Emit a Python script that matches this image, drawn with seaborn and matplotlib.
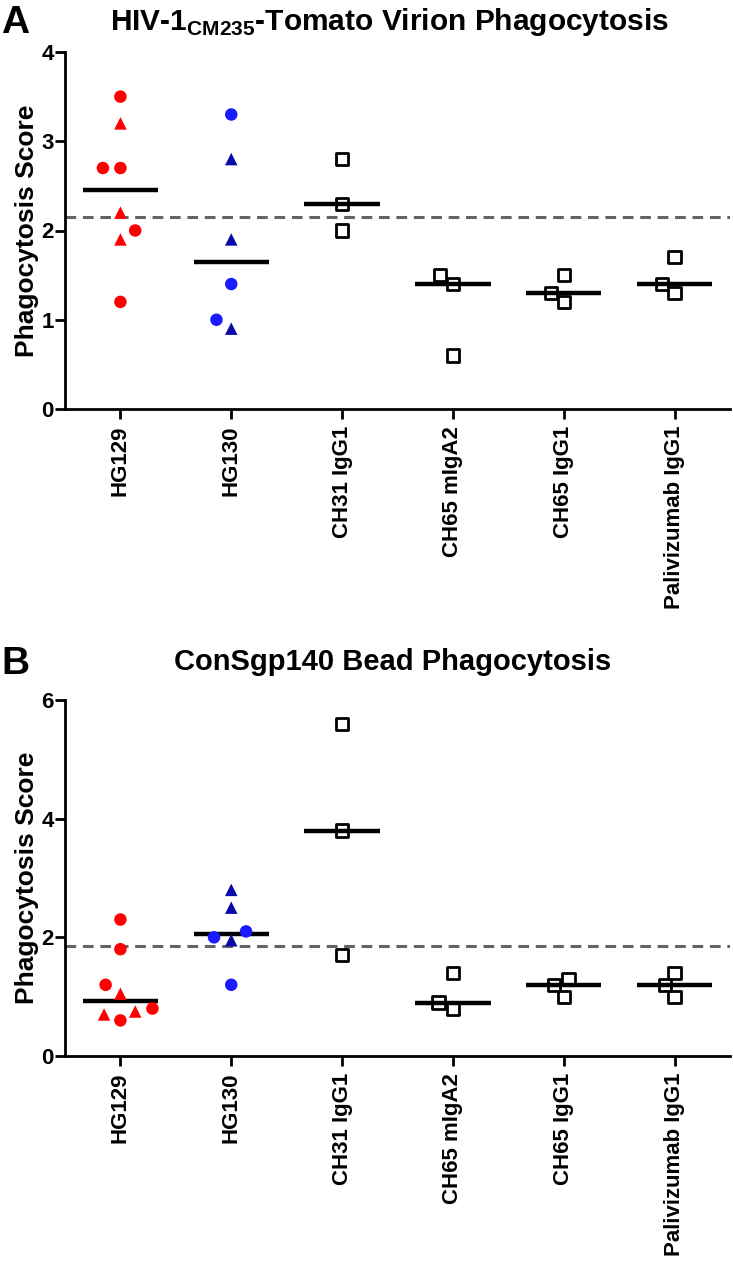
import numpy as np
import pandas as pd
import matplotlib
matplotlib.use("Agg")
import matplotlib.pyplot as plt
import seaborn as sns
from matplotlib.markers import MarkerStyle

# ---------------- data ----------------
categories = ["HG129", "HG130", "CH31 IgG1", "CH65 mIgA2", "CH65 IgG1", "Palivizumab IgG1"]

# Panel A: HIV-1 CM235-Tomato virion phagocytosis
a_hg129 = [3.5, 3.2, 2.7, 2.7, 2.2, 2.0, 1.9, 1.2]
a_hg129_shape = ["o", "^", "o", "o", "^", "o", "^", "o"]
a_hg130 = [3.3, 2.8, 1.9, 1.4, 1.0, 0.9]
a_hg130_shape = ["o", "^", "^", "o", "o", "^"]
a_ch31_igg1 = [2.8, 2.3, 2.0]
a_ch65_miga2 = [1.5, 1.4, 0.6]
a_ch65_igg1 = [1.5, 1.3, 1.2]
a_palivizumab = [1.7, 1.4, 1.3]
a_cutoff = 2.15

# Panel B: ConSgp140 bead phagocytosis
b_hg129 = [2.3, 1.8, 1.2, 1.05, 0.8, 0.75, 0.7, 0.6]
b_hg129_shape = ["o", "o", "o", "^", "o", "^", "^", "o"]
b_hg130 = [2.8, 2.5, 2.1, 2.0, 1.95, 1.2]
b_hg130_shape = ["^", "^", "o", "o", "^", "o"]
b_ch31_igg1 = [5.6, 3.8, 1.7]
b_ch65_miga2 = [1.4, 0.9, 0.8]
b_ch65_igg1 = [1.3, 1.2, 1.0]
b_palivizumab = [1.4, 1.2, 1.0]
b_cutoff = 1.85

# ---------------- style ----------------
sns.set_theme(style="ticks")
plt.rcParams["font.family"] = ["Liberation Sans", "DejaVu Sans"]
plt.rcParams["mathtext.fontset"] = "custom"
plt.rcParams["mathtext.rm"] = "Liberation Sans"
plt.rcParams["mathtext.bf"] = "Liberation Sans:bold"
for k in ("text.color", "axes.labelcolor", "xtick.color", "ytick.color", "axes.edgecolor"):
    plt.rcParams[k] = "black"

colors = {("HG129", "o"): "#ff0000", ("HG129", "^"): "#ff0000",
          ("HG130", "o"): "#1a1aff", ("HG130", "^"): "#0a0aa8"}


def make_df(hg129, s129, hg130, s130, ch31, ch65a, ch65g, pali):
    rows = []
    for v, s in zip(hg129, s129):
        rows.append((categories[0], v, s))
    for v, s in zip(hg130, s130):
        rows.append((categories[1], v, s))
    for cat, vals in zip(categories[2:], [ch31, ch65a, ch65g, pali]):
        for v in vals:
            rows.append((cat, v, "s"))
    return pd.DataFrame(rows, columns=["cat", "score", "shape"])


df_a = make_df(a_hg129, a_hg129_shape, a_hg130, a_hg130_shape,
               a_ch31_igg1, a_ch65_miga2, a_ch65_igg1, a_palivizumab)
df_b = make_df(b_hg129, b_hg129_shape, b_hg130, b_hg130_shape,
               b_ch31_igg1, b_ch65_miga2, b_ch65_igg1, b_palivizumab)

W, H = 733, 1265
fig = plt.figure(figsize=(W / 100, H / 100), dpi=100)

def px_axes(left, top, right, bottom):
    return fig.add_axes([left / W, 1 - bottom / H, (right - left) / W, (bottom - top) / H])

ax_a = px_axes(65, 52, 730, 409)
ax_b = px_axes(65, 700, 730, 1056)


def marker_path(m):
    ms = MarkerStyle(m)
    return ms.get_path().transformed(ms.get_transform())


def draw_panel(ax, df, cutoff, ymax, yticks):
    ax.axhline(cutoff, color="#646464", lw=2.2, ls=(0, (3.5, 2.2)), zorder=1)
    sns.boxplot(data=df, x="cat", y="score", order=categories, ax=ax,
                showbox=False, showcaps=False, showfliers=False, whis=0,
                width=0.68,
                medianprops=dict(color="black", lw=3.2, solid_capstyle="butt"),
                whiskerprops=dict(visible=False), zorder=3)
    sns.swarmplot(data=df, x="cat", y="score", order=categories, ax=ax,
                  size=9, color="black", linewidth=0, zorder=4)
    for coll in ax.collections:
        offs = coll.get_offsets()
        if len(offs) == 0:
            continue
        idx = int(round(offs[0, 0]))
        cat = categories[idx]
        sub = df[df["cat"] == cat]
        shapes = list(sub["shape"])
        coll.set_paths([marker_path(s) for s in shapes])
        if cat in ("HG129", "HG130"):
            coll.set_facecolors([colors[(cat, s)] for s in shapes])
            coll.set_edgecolor("none")
            coll.set_linewidth(3)
        else:
            coll.set_sizes([78])
            coll.set_facecolor("none")
            coll.set_edgecolor("black")
            coll.set_linewidth(2)
    ax.set_xlim(-0.5, 5.5)
    ax.set_ylim(0, ymax)
    ax.set_yticks(yticks)
    ax.set_yticklabels([str(t) for t in yticks], fontweight="bold")
    ax.set_xticks(range(len(categories)))
    ax.set_xticklabels(categories, rotation=90, fontweight="bold", fontsize=16)
    ax.set_xlabel("")
    ax.set_ylabel("Phagocytosis Score", fontweight="bold", fontsize=19, labelpad=2)
    sns.despine(ax=ax)
    for sp in ("left", "bottom"):
        ax.spines[sp].set_linewidth(2)
        ax.spines[sp].set_color("black")
    ax.tick_params(axis="y", length=7, width=2, labelsize=16, pad=1, color="black")
    ax.tick_params(axis="x", length=7, width=2, pad=5, color="black")
    for sp in ax.spines.values():
        sp.set_clip_on(False)


draw_panel(ax_a, df_a, a_cutoff, 4, [0, 1, 2, 3, 4])
draw_panel(ax_b, df_b, b_cutoff, 6, [0, 2, 4, 6])

fig.text(390 / W, 1 - 22 / H, r"HIV-1$_{\mathbf{CM235}}$-Tomato Virion Phagocytosis",
         ha="center", va="center", fontsize=21.5, fontweight="bold")
fig.text(393 / W, 1 - 662 / H, "ConSgp140 Bead Phagocytosis",
         ha="center", va="center", fontsize=21, fontweight="bold")
fig.text(1 / W, 1 - 5 / H, "A", ha="left", va="top", fontsize=28, fontweight="bold")
fig.text(1 / W, 1 - 646 / H, "B", ha="left", va="top", fontsize=28, fontweight="bold")

fig.savefig("out.png", dpi=100)
